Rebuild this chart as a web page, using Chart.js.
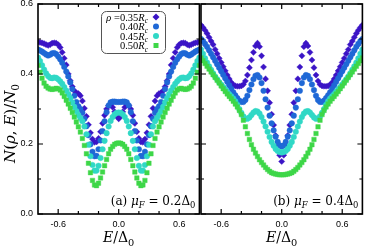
<!DOCTYPE html>
<html><head><meta charset="utf-8">
<script src="https://cdn.jsdelivr.net/npm/chart.js@4.4.0/dist/chart.umd.min.js"></script>
<style>
html,body{margin:0;padding:0;background:#fff;}
#wrap{position:relative;width:366px;height:247px;overflow:hidden;background:#fff;}
#cA{position:absolute;left:0;top:0;}
#cB{position:absolute;left:190px;top:0;}
</style></head><body>
<div id="wrap"><canvas id="cA" width="203" height="247"></canvas><canvas id="cB" width="176" height="247"></canvas></div>
<script>
// ---- data ----
const energy = [-0.80,-0.78,-0.76,-0.74,-0.72,-0.70,-0.68,-0.66,-0.64,-0.62,-0.60,-0.58,-0.56,-0.54,-0.52,-0.50,-0.48,-0.46,-0.44,-0.42,-0.40,-0.38,-0.36,-0.34,-0.32,-0.30,-0.28,-0.26,-0.24,-0.22,-0.20,-0.18,-0.16,-0.14,-0.12,-0.10,-0.08,-0.06,-0.04,-0.02,0.00,
0.02,0.04,0.06,0.08,0.10,0.12,0.14,0.16,0.18,0.20,0.22,0.24,0.26,0.28,0.30,0.32,0.34,0.36,0.38,0.40,0.42,0.44,0.46,0.48,0.50,0.52,0.54,0.56,0.58,0.60,0.62,0.64,0.66,0.68,0.70,0.72,0.74,0.76,0.78,0.80];

const radiusLabels = ['0.35','0.40','0.45','0.50'];
const xTickLabels = ['-0.6','0.0','0.6'];
const yTickLabels = ['0.0','0.2','0.4','0.6'];

// panel (a): mu_F = 0.2 Delta_0
const a035 = [0.492,0.490,0.489,0.487,0.484,0.482,0.484,0.488,0.489,0.488,0.484,0.476,0.462,0.445,0.426,0.400,0.381,0.364,0.352,0.346,0.344,0.338,0.323,0.302,0.279,0.255,0.232,0.214,0.205,0.206,0.216,0.235,0.259,0.282,0.300,0.310,0.312,0.305,0.292,0.279,0.272,
0.279,0.292,0.305,0.312,0.310,0.300,0.282,0.259,0.235,0.216,0.206,0.205,0.214,0.232,0.255,0.279,0.302,0.323,0.338,0.344,0.346,0.352,0.364,0.381,0.400,0.426,0.445,0.462,0.476,0.484,0.488,0.489,0.488,0.484,0.482,0.484,0.487,0.489,0.490,0.492];
const a040 = [0.470,0.467,0.464,0.460,0.456,0.453,0.455,0.459,0.460,0.457,0.450,0.442,0.432,0.420,0.407,0.393,0.376,0.357,0.338,0.320,0.308,0.300,0.289,0.272,0.251,0.225,0.199,0.178,0.165,0.166,0.185,0.210,0.237,0.265,0.291,0.310,0.319,0.321,0.321,0.320,0.320,
0.320,0.321,0.321,0.319,0.310,0.291,0.265,0.237,0.210,0.185,0.166,0.165,0.178,0.199,0.225,0.251,0.272,0.289,0.300,0.308,0.320,0.338,0.357,0.376,0.393,0.407,0.420,0.432,0.442,0.450,0.457,0.460,0.459,0.455,0.453,0.456,0.460,0.464,0.467,0.470];
const a045 = [0.447,0.437,0.425,0.413,0.402,0.394,0.389,0.388,0.390,0.389,0.385,0.379,0.372,0.363,0.353,0.343,0.331,0.319,0.306,0.294,0.283,0.274,0.265,0.250,0.228,0.198,0.165,0.140,0.124,0.124,0.138,0.160,0.185,0.209,0.231,0.250,0.266,0.277,0.285,0.289,0.290,
0.289,0.285,0.277,0.266,0.250,0.231,0.209,0.185,0.160,0.138,0.124,0.124,0.140,0.165,0.198,0.228,0.250,0.265,0.274,0.283,0.294,0.306,0.319,0.331,0.343,0.353,0.363,0.372,0.379,0.385,0.389,0.390,0.388,0.389,0.394,0.402,0.413,0.425,0.437,0.447];
const a050 = [0.424,0.405,0.388,0.374,0.365,0.360,0.357,0.356,0.357,0.359,0.358,0.354,0.346,0.336,0.325,0.314,0.302,0.290,0.277,0.263,0.249,0.234,0.216,0.196,0.172,0.145,0.118,0.096,0.083,0.081,0.088,0.103,0.120,0.138,0.156,0.172,0.185,0.193,0.199,0.202,0.203,
0.202,0.199,0.193,0.185,0.172,0.156,0.138,0.120,0.103,0.088,0.081,0.083,0.096,0.118,0.145,0.172,0.196,0.216,0.234,0.249,0.263,0.277,0.290,0.302,0.314,0.325,0.336,0.346,0.354,0.358,0.359,0.357,0.356,0.357,0.360,0.365,0.374,0.388,0.405,0.424];

// panel (b): mu_F = 0.4 Delta_0
const b035 = [0.540,0.533,0.525,0.516,0.505,0.494,0.484,0.470,0.458,0.445,0.433,0.421,0.409,0.397,0.386,0.376,0.369,0.366,0.365,0.365,0.366,0.370,0.380,0.397,0.418,0.440,0.462,0.480,0.488,0.478,0.452,0.420,0.386,0.352,0.318,0.285,0.254,0.224,0.196,0.168,0.150,
0.168,0.196,0.224,0.254,0.285,0.318,0.352,0.386,0.420,0.452,0.478,0.488,0.480,0.462,0.440,0.418,0.397,0.380,0.370,0.366,0.365,0.365,0.366,0.369,0.376,0.386,0.397,0.409,0.421,0.433,0.445,0.458,0.470,0.484,0.494,0.505,0.516,0.525,0.533,0.540];
const b040 = [0.500,0.494,0.486,0.478,0.468,0.458,0.448,0.438,0.428,0.418,0.408,0.398,0.388,0.378,0.368,0.358,0.348,0.339,0.331,0.324,0.320,0.320,0.326,0.338,0.354,0.370,0.385,0.395,0.397,0.390,0.374,0.352,0.328,0.304,0.281,0.259,0.239,0.221,0.206,0.196,0.193,
0.196,0.206,0.221,0.239,0.259,0.281,0.304,0.328,0.352,0.374,0.390,0.397,0.395,0.385,0.370,0.354,0.338,0.326,0.320,0.320,0.324,0.331,0.339,0.348,0.358,0.368,0.378,0.388,0.398,0.408,0.418,0.428,0.438,0.448,0.458,0.468,0.478,0.486,0.494,0.500];
const b045 = [0.470,0.458,0.445,0.433,0.422,0.412,0.402,0.393,0.385,0.377,0.370,0.363,0.356,0.349,0.342,0.336,0.330,0.322,0.312,0.300,0.289,0.279,0.273,0.272,0.276,0.283,0.290,0.294,0.293,0.287,0.277,0.264,0.250,0.235,0.220,0.206,0.195,0.186,0.180,0.177,0.176,
0.177,0.180,0.186,0.195,0.206,0.220,0.235,0.250,0.264,0.277,0.287,0.293,0.294,0.290,0.283,0.276,0.272,0.273,0.279,0.289,0.300,0.312,0.322,0.330,0.336,0.342,0.349,0.356,0.363,0.370,0.377,0.385,0.393,0.402,0.412,0.422,0.433,0.445,0.458,0.470];
const b050 = [0.446,0.438,0.430,0.422,0.414,0.406,0.398,0.390,0.382,0.374,0.366,0.358,0.350,0.343,0.336,0.329,0.322,0.314,0.306,0.296,0.284,0.268,0.249,0.230,0.213,0.198,0.185,0.174,0.164,0.155,0.147,0.140,0.133,0.127,0.122,0.118,0.116,0.114,0.113,0.112,0.112,
0.112,0.113,0.114,0.116,0.118,0.122,0.127,0.133,0.140,0.147,0.155,0.164,0.174,0.185,0.198,0.213,0.230,0.249,0.268,0.284,0.296,0.306,0.314,0.322,0.329,0.336,0.343,0.350,0.358,0.366,0.374,0.382,0.390,0.398,0.406,0.414,0.422,0.430,0.438,0.446];

// ---- styles ----
const colors = ['#3b14c6','#1f68d6','#30d8c6','#3ed748'];
const pStyles = ['rectRot','circle','circle','rect'];
const pRadius = [3.1,2.8,2.8,3.2];
const SERIF = '"DejaVu Serif", "Liberation Serif", serif';
const SERIF2 = '"Liberation Serif", "DejaVu Serif", serif';

function fontFor(r,size,fam){ return (r.it?'italic ':'') + (r.sub? Math.round(size*0.7*10)/10 : size) + 'px ' + (fam||SERIF); }
function richWidth(ctx,runs,size,fam){ let w=0; runs.forEach(r=>{ctx.font=fontFor(r,size,fam); w+=ctx.measureText(r.t).width;}); return w; }
function drawRich(ctx,runs,x,y,size,align,fam){
  const w=richWidth(ctx,runs,size,fam);
  let cx = align==='right'? x-w : (align==='center'? x-w/2 : x);
  ctx.textBaseline='alphabetic'; ctx.textAlign='left'; ctx.fillStyle='#000';
  runs.forEach(r=>{ ctx.font=fontFor(r,size,fam); ctx.fillText(r.t,cx,y+(r.sub?size*0.25:0)); cx+=ctx.measureText(r.t).width; });
}

const xTicksMinor = [-0.4,-0.2,0.2,0.4];
const yTicksMinor = [0.1,0.3,0.5];

const framePlugin = {
  id:'frame',
  afterDatasetsDraw(chart){
    const {ctx, chartArea:a, scales:{x,y}} = chart;
    ctx.save();
    ctx.strokeStyle='#000';
    ctx.lineWidth=1.2;
    ctx.beginPath();
    const tick = (vals,len)=>{
      vals.forEach(v=>{
        const px=x.getPixelForValue(v);
        ctx.moveTo(px,a.bottom); ctx.lineTo(px,a.bottom-len);
        ctx.moveTo(px,a.top); ctx.lineTo(px,a.top+len);
      });
    };
    tick(xTickLabels.map(parseFloat),5);
    tick(xTicksMinor,3);
    const ytick=(vals,len)=>{
      vals.forEach(v=>{
        const py=y.getPixelForValue(v);
        ctx.moveTo(a.left,py); ctx.lineTo(a.left+len,py);
        ctx.moveTo(a.right,py); ctx.lineTo(a.right-len,py);
      });
    };
    ytick(yTickLabels.map(parseFloat),5);
    ytick(yTicksMinor,3);
    ctx.stroke();
    ctx.lineWidth=1.6;
    ctx.strokeRect(a.left,a.top,a.right-a.left,a.bottom-a.top);
    ctx.restore();
  }
};

function textPlugin(panel){
  return {
    id:'texts'+panel,
    afterDraw(chart){
      const {ctx, chartArea:a, scales:{x}} = chart;
      ctx.save();
      // x title
      drawRich(ctx,[{t:'E',it:1},{t:'/Δ'},{t:'0',sub:1}], x.getPixelForValue(0), 242, 14, 'center');
      // panel annotation
      const mu = panel==='a' ? '0.2' : '0.4';
      drawRich(ctx,[{t:'('+panel+') '},{t:'μ',it:1},{t:'F',it:1,sub:1},{t:' = '+mu+'Δ'},{t:'0',sub:1}], a.right-4, 205, 12, 'right');
      if(panel==='a'){
        // y title
        ctx.save();
        ctx.translate(15,123.5); ctx.rotate(-Math.PI/2);
        drawRich(ctx,[{t:'N',it:1},{t:'('},{t:'ρ',it:1},{t:', '},{t:'E',it:1},{t:')/'},{t:'N',it:1},{t:'0',sub:1}],0,0,15,'center');
        ctx.restore();
        // legend
        ctx.beginPath();
        ctx.roundRect(101.5,11.5,64,42,5);
        ctx.fillStyle='#fff'; ctx.fill();
        ctx.strokeStyle='#555'; ctx.lineWidth=1; ctx.stroke();
        const rows=[17,26.5,36,45.5];
        radiusLabels.forEach((lab,i)=>{
          const runs = i===0 ? [{t:'ρ',it:1},{t:' ='+lab}] : [{t:lab}];
          runs.push({t:'R',it:1},{t:'c',it:1,sub:1});
          drawRich(ctx,runs,148,rows[i]+3.5,10.5,'right',SERIF2);
          const mx=156, my=rows[i];
          ctx.fillStyle=colors[i];
          ctx.beginPath();
          if(pStyles[i]==='rectRot'){ ctx.moveTo(mx,my-3.5); ctx.lineTo(mx+3.5,my); ctx.lineTo(mx,my+3.5); ctx.lineTo(mx-3.5,my); ctx.closePath(); }
          else if(pStyles[i]==='circle'){ ctx.arc(mx,my,3,0,Math.PI*2); }
          else { ctx.rect(mx-2.5,my-2.5,5,5); }
          ctx.fill();
        });
      }
      ctx.restore();
    }
  };
}

function makeChart(canvas, series, panel){
  const datasets = series.map((vals,i)=>({
    label: 'ρ=' + radiusLabels[i] + 'Rc',
    data: energy.map((e,k)=>({x:e,y:vals[k]})),
    showLine:false,
    pointStyle:pStyles[i],
    pointRadius:pRadius[i],
    pointHoverRadius:pRadius[i],
    pointBackgroundColor:colors[i],
    pointBorderColor:colors[i],
    pointBorderWidth:0.4,
    order:3-i,
    clip:0
  }));
  const left = panel==='a';
  return new Chart(canvas,{
    type:'scatter',
    data:{datasets},
    options:{
      responsive:false, animation:false, devicePixelRatio:1,
      events:[],
      layout:{padding: left? {left:0,top:4,right:2,bottom:0} : {left:11,top:4,right:1,bottom:0}},
      plugins:{legend:{display:false}, tooltip:{enabled:false}},
      scales:{
        x:{type:'linear',min:-0.8,max:0.8,
          grid:{display:false,drawTicks:false}, border:{display:false},
          afterBuildTicks:s=>{ s.ticks = xTickLabels.map(t=>({value:parseFloat(t)})); },
          afterFit:s=>{ s.height=33; s.paddingLeft=0; s.paddingRight=0; },
          ticks:{autoSkip:false,maxRotation:0,padding:5,color:'#000',
            font:{family:'"Liberation Sans", Arial, sans-serif',size:9},
            callback:(v)=>{ const s=(Math.abs(v)<1e-9?0:v).toFixed(1); return xTickLabels.includes(s)?s:''; }}
        },
        y:{type:'linear',min:0,max:0.6,display:left,
          grid:{display:false,drawTicks:false}, border:{display:false},
          afterBuildTicks:s=>{ s.ticks = yTickLabels.map(t=>({value:parseFloat(t)})); },
          afterFit:s=>{ if(left){ s.width=38; } s.paddingTop=0; s.paddingBottom=0; },
          ticks:{padding:5,color:'#000',
            font:{family:'"Liberation Sans", Arial, sans-serif',size:9},
            callback:(v)=>{ const s=(Math.abs(v)<1e-9?0:v).toFixed(1); return yTickLabels.includes(s)?s:''; }}
        }
      }
    },
    plugins:[framePlugin, textPlugin(panel)]
  });
}

makeChart(document.getElementById('cA'), [a035,a040,a045,a050], 'a');
makeChart(document.getElementById('cB'), [b035,b040,b045,b050], 'b');
</script>
</body></html>
